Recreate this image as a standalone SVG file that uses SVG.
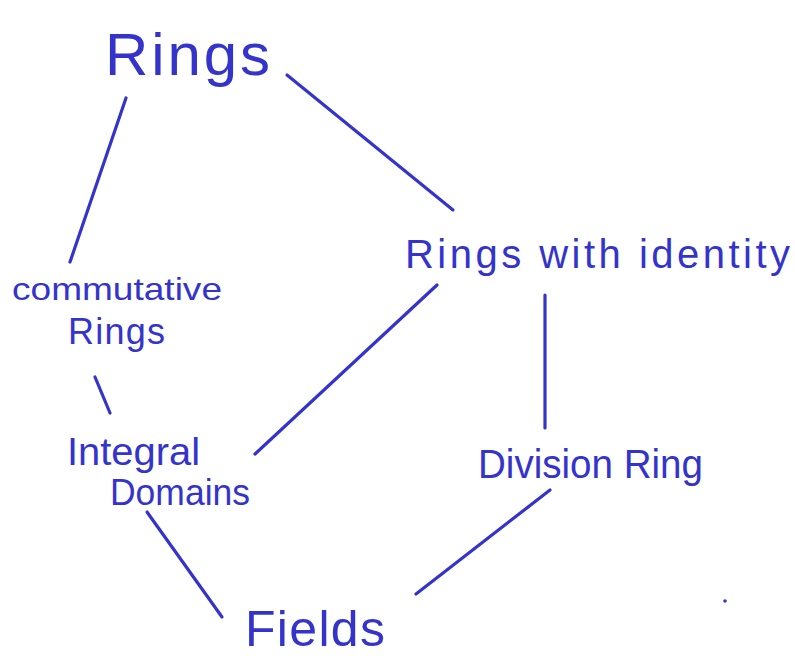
<svg xmlns="http://www.w3.org/2000/svg" width="795" height="660" viewBox="0 0 795 660">
<style>
.t{font-family:"Liberation Sans","DejaVu Sans",sans-serif;fill:#3434cc}
.e{stroke:#3434cc;stroke-width:3.2;stroke-linecap:round;fill:none}
</style>
<rect width="795" height="660" fill="#fff"/>
<g id="connectors">
<line class="e" x1="126" y1="98" x2="70" y2="262"/>
<line class="e" x1="287" y1="75" x2="453" y2="210"/>
<line class="e" x1="95" y1="377" x2="110" y2="413"/>
<line class="e" x1="437" y1="285" x2="255" y2="454"/>
<line class="e" x1="545" y1="295" x2="545" y2="428"/>
<line class="e" x1="147" y1="512" x2="222" y2="617"/>
<line class="e" x1="550" y1="490" x2="416" y2="594"/>
</g>
<g id="rings"><text class="t" x="105" y="75" font-size="60" textLength="165" lengthAdjust="spacing">Rings</text></g>
<g id="rings-identity"><text class="t" x="405" y="268" font-size="40" textLength="385" lengthAdjust="spacing">Rings with identity</text></g>
<g id="commutative"><text class="t" x="12" y="300" font-size="32" textLength="210" lengthAdjust="spacingAndGlyphs">commutative</text><text class="t" x="68" y="344" font-size="36" textLength="97" lengthAdjust="spacing">Rings</text></g>
<g id="integral"><text class="t" x="67" y="465" font-size="38" textLength="133" lengthAdjust="spacingAndGlyphs">Integral</text><text class="t" x="110" y="505" font-size="36" textLength="140" lengthAdjust="spacingAndGlyphs">Domains</text></g>
<g id="division"><text class="t" x="478" y="478" font-size="40" textLength="225" lengthAdjust="spacingAndGlyphs">Division Ring</text></g>
<g id="fields"><text class="t" x="245" y="646" font-size="50" textLength="140" lengthAdjust="spacing">Fields</text></g>
<circle cx="725" cy="601" r="1.8" fill="#3434cc"/>
</svg>
